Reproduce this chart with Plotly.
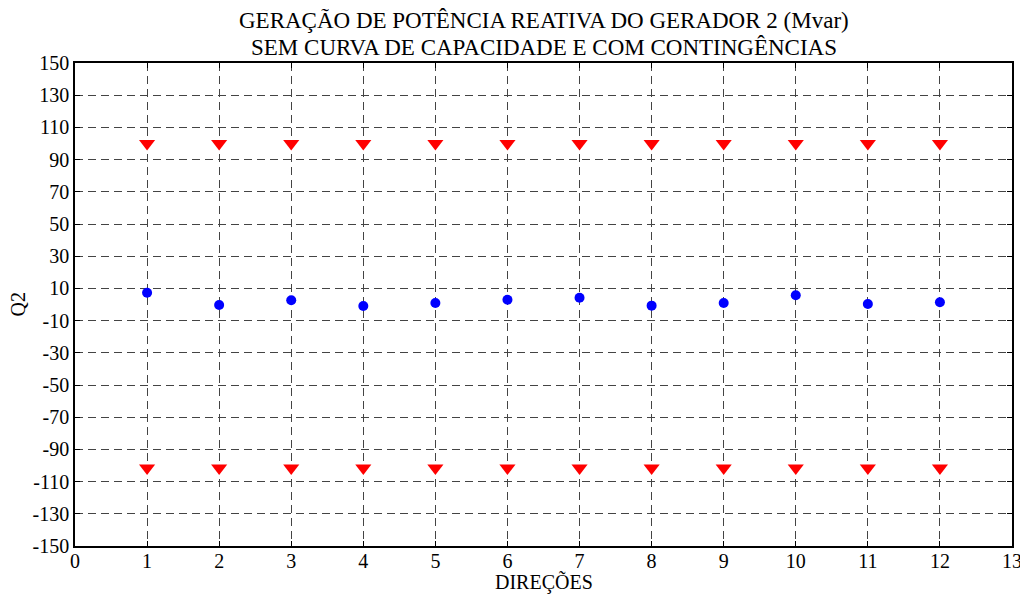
import plotly.graph_objects as go

direcoes = list(range(1, 13))
q2 = [7.3, -0.3, 2.6, -0.9, 0.9, 3.0, 4.2, -0.7, 0.9, 5.7, 0.3, 1.4]
q2_max = [100] * 12
q2_min = [-101.5] * 12

x_ticks = list(range(0, 14))
y_ticks = list(range(-150, 151, 20))
y_tick_labels = [str(v) for v in y_ticks]

FONT = "Liberation Serif, Times New Roman, serif"

fig = go.Figure()
fig.add_trace(go.Scatter(x=direcoes, y=q2_max, mode="markers",
                         marker=dict(symbol="triangle-down", size=14, color="#ff0000"),
                         showlegend=False))
fig.add_trace(go.Scatter(x=direcoes, y=q2_min, mode="markers",
                         marker=dict(symbol="triangle-down", size=14, color="#ff0000"),
                         showlegend=False))
fig.add_trace(go.Scatter(x=direcoes, y=q2, mode="markers",
                         marker=dict(symbol="circle", size=10, color="#0000ff"),
                         showlegend=False))

axis_common = dict(showline=True, linecolor="black", linewidth=1.5, mirror="ticks",
                   ticks="inside", ticklen=5, tickcolor="black",
                   showgrid=True, gridcolor="#444444", griddash="8px,5px", gridwidth=1,
                   zeroline=False, automargin=False,
                   tickfont=dict(family=FONT, size=20, color="black"))

fig.update_layout(
    width=1020, height=586,
    margin=dict(l=67, r=16, t=55, b=48),
    paper_bgcolor="white", plot_bgcolor="white",
    xaxis=dict(range=[0, 13], tickvals=x_ticks, ticklabelstandoff=-4, **axis_common),
    yaxis=dict(range=[-150, 150], tickvals=y_ticks, ticktext=y_tick_labels, **axis_common),
    annotations=[
        dict(text="GERAÇÃO DE POTÊNCIA REATIVA DO GERADOR 2 (Mvar)", xref="paper", yref="paper",
             x=0.5, y=1, yshift=43, showarrow=False, xanchor="center", yanchor="middle",
             font=dict(family=FONT, size=23, color="black")),
        dict(text="SEM CURVA DE CAPACIDADE E COM CONTINGÊNCIAS", xref="paper", yref="paper",
             x=0.5, y=1, yshift=16, showarrow=False, xanchor="center", yanchor="middle",
             font=dict(family=FONT, size=23, color="black")),
        dict(text="DIREÇÕES", xref="paper", yref="paper",
             x=0.5, y=0, yshift=-36, showarrow=False, xanchor="center", yanchor="middle",
             font=dict(family=FONT, size=20, color="black")),
        dict(text="Q2", xref="paper", yref="paper", textangle=-90,
             x=0, xshift=-58, y=0.5, showarrow=False, xanchor="center", yanchor="middle",
             font=dict(family=FONT, size=20, color="black")),
    ],
)

fig.write_html("out.html")
